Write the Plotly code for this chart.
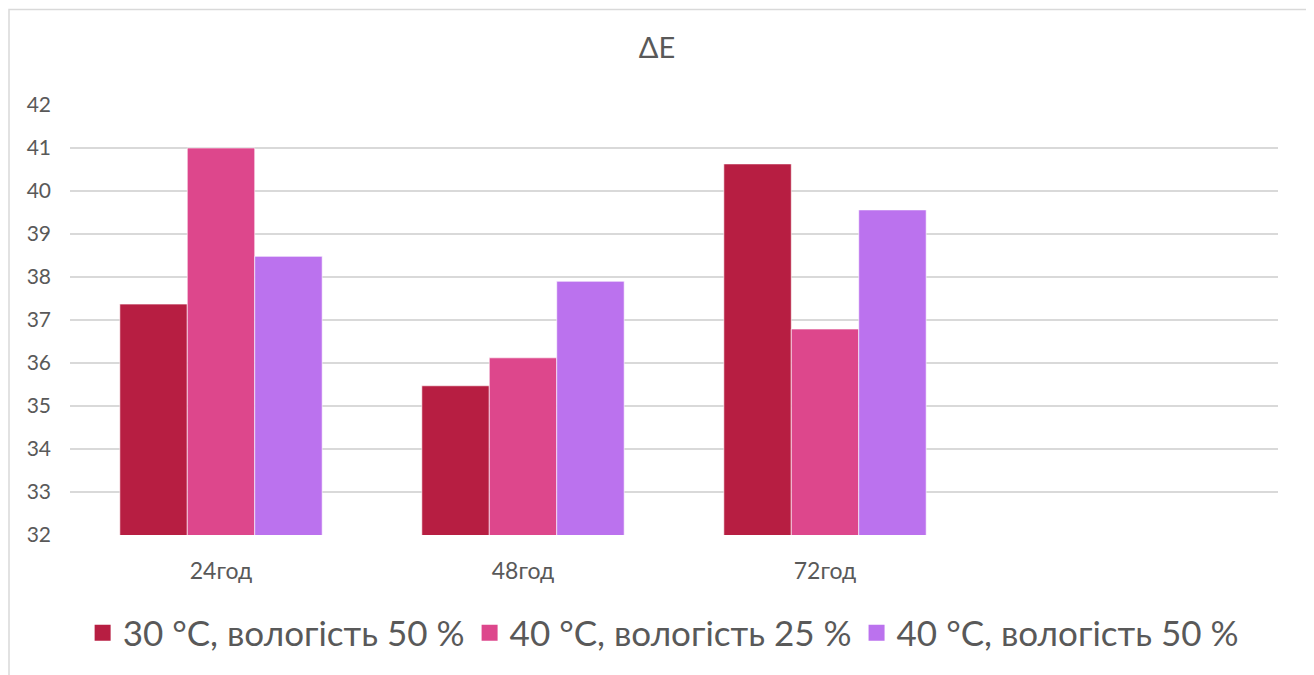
import plotly.graph_objects as go

categories = ["24год", "48год", "72год", " "]
series_names = ["30 °C, вологість 50 %", "40 °C, вологість 25 %", "40 °C, вологість 50 %"]
s1 = [37.37, 35.47, 40.63, None]
s2 = [41.0, 36.12, 36.79, None]
s3 = [38.48, 37.9, 39.56, None]
colors = ["#B71E42", "#DD478C", "#BB72EE"]
y_ticks = list(range(32, 43))

fig = go.Figure()
for name, vals, c in zip(series_names, [s1, s2, s3], colors):
    fig.add_trace(go.Bar(
        x=categories, y=vals, name=name, showlegend=False,
        marker=dict(color=c, line=dict(color="rgba(255,255,255,0.6)", width=1)),
    ))
# legend entries with larger square swatches
for name, c in zip(series_names, colors):
    fig.add_trace(go.Scatter(
        x=[None], y=[None], mode="markers", name=name,
        marker=dict(symbol="square", size=17, color=c),
    ))

fig.update_layout(
    width=1306, height=667,
    margin=dict(l=62, r=36, t=97, b=140),
    paper_bgcolor="white", plot_bgcolor="white",
    font=dict(family="Lato, sans-serif", color="#595959"),
    title=dict(text="ΔE", x=0.497, xanchor="center", y=0.94, yanchor="middle",
               font=dict(size=29, color="#595959")),
    barmode="group", bargap=0.33, bargroupgap=0,
    xaxis=dict(type="category", categoryorder="array", categoryarray=categories,
               showgrid=False, showline=False, ticks="", tickfont=dict(size=23),
               ticklabelstandoff=20),
    yaxis=dict(range=[32, 42], tickvals=y_ticks, showgrid=True, gridcolor="#D9D9D9",
               gridwidth=1.5, zeroline=False, showline=False, tickfont=dict(size=21),
               ticks="", ticklabelstandoff=18),
    legend=dict(orientation="h", x=0.491, xanchor="center", y=-0.228, yanchor="middle",
                font=dict(size=35, color="#595959"), itemsizing="trace", itemwidth=30,
                tracegroupgap=0),
    shapes=[dict(type="rect", xref="paper", yref="paper", x0=-0.0505, x1=1.024,
                 y0=-0.35, y1=1.222, line=dict(color="#D9D9D9", width=1.5), layer="below")],
)

fig.write_html("out.html")
